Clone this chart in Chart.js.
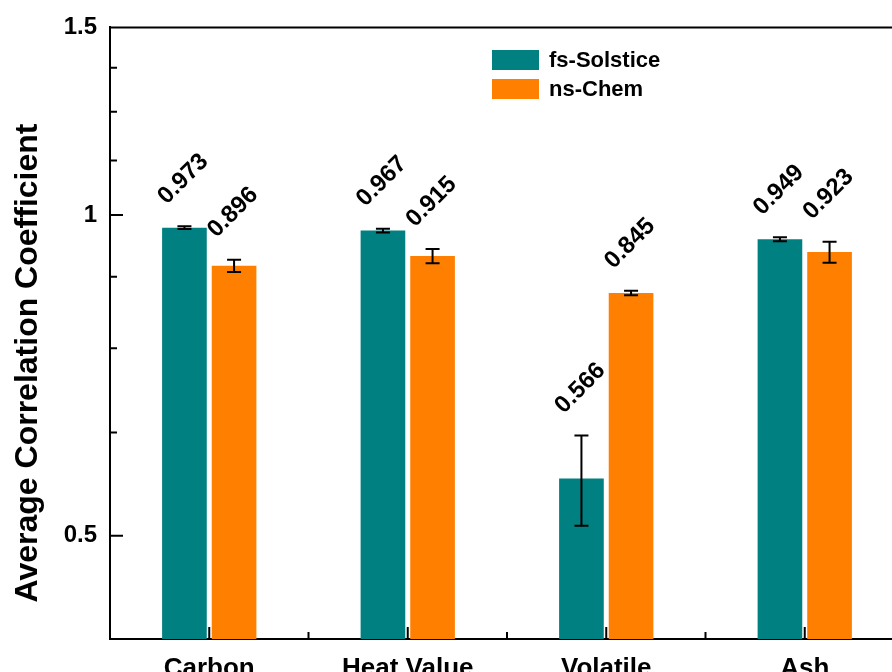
<!DOCTYPE html>
<html lang="en">
<head>
  <meta charset="UTF-8">
  <title>Average Correlation Coefficient</title>
  <script src="https://cdn.jsdelivr.net/npm/chart.js"></script>
  <style>
    html, body { margin: 0; padding: 0; background: #fff; overflow: hidden; }
    #wrap { width: 920px; height: 672px; }
  </style>
</head>
<body>
  <div id="wrap"><canvas id="corrChart" width="920" height="672"></canvas></div>

  <script>
    const categories = ['Carbon', 'Heat Value', 'Volatile', 'Ash'];
    const seriesNames = ['fs-Solstice', 'ns-Chem'];
    const fsValues = [0.973, 0.967, 0.566, 0.949];
    const fsErrors = [0.003, 0.004, 0.055, 0.004];
    const nsValues = [0.896, 0.915, 0.845, 0.923];
    const nsErrors = [0.012, 0.014, 0.004, 0.021];
    const yTicks = [0.5, 1, 1.5];
    const yMinorTicks = [0.625, 0.75, 0.875, 1.125, 1.25, 1.375];

    const FONT = "'Liberation Sans', Arial, sans-serif";

    // error bars, value labels, inward ticks, frame, legend, y title
    const decorations = {
      id: 'decorations',
      afterDatasetsDraw(chart) {
        const { ctx, chartArea: area, scales: { x, y } } = chart;
        ctx.save();

        chart.data.datasets.forEach((ds, di) => {
          chart.getDatasetMeta(di).data.forEach((bar, i) => {
            const v = ds.data[i], e = ds.errors[i];
            const top = y.getPixelForValue(v + e);
            const bot = y.getPixelForValue(v - e);
            ctx.strokeStyle = '#000';
            ctx.lineWidth = 2;
            ctx.beginPath();
            ctx.moveTo(bar.x, top); ctx.lineTo(bar.x, bot);
            ctx.moveTo(bar.x - 7, top); ctx.lineTo(bar.x + 7, top);
            ctx.moveTo(bar.x - 7, bot); ctx.lineTo(bar.x + 7, bot);
            ctx.stroke();

            ctx.save();
            ctx.translate(bar.x - bar.width / 2, top - 26);
            ctx.rotate(-Math.PI / 4);
            ctx.font = 'bold 24px ' + FONT;
            ctx.fillStyle = '#000';
            ctx.textAlign = 'left';
            ctx.textBaseline = 'middle';
            ctx.fillText(v.toFixed(3), 0, 0);
            ctx.restore();
          });
        });

        ctx.strokeStyle = '#000';
        ctx.lineWidth = 2;
        ctx.beginPath();
        // top frame line
        ctx.moveTo(area.left, area.top); ctx.lineTo(chart.width, area.top);
        // y ticks pointing inward
        yTicks.forEach(v => {
          const py = y.getPixelForValue(v);
          ctx.moveTo(area.left, py); ctx.lineTo(area.left + 13, py);
        });
        yMinorTicks.forEach(v => {
          const py = y.getPixelForValue(v);
          ctx.moveTo(area.left, py); ctx.lineTo(area.left + 7, py);
        });
        // x ticks pointing inward
        categories.forEach((c, i) => {
          const px = x.getPixelForValue(i);
          ctx.moveTo(px, area.bottom); ctx.lineTo(px, area.bottom - 12);
          if (i > 0) {
            const mx = x.getPixelForValue(i - 0.5);
            ctx.moveTo(mx, area.bottom); ctx.lineTo(mx, area.bottom - 7);
          }
        });
        ctx.stroke();

        // legend
        ctx.font = 'bold 22px ' + FONT;
        ctx.textAlign = 'left';
        ctx.textBaseline = 'middle';
        chart.data.datasets.forEach((ds, di) => {
          const cy = 60 + di * 29;
          ctx.fillStyle = ds.backgroundColor;
          ctx.fillRect(492, cy - 10, 47, 20);
          ctx.fillStyle = '#000';
          ctx.fillText(ds.label, 549, cy + 1);
        });

        // y axis title
        ctx.save();
        ctx.translate(37, 363);
        ctx.rotate(-Math.PI / 2);
        ctx.font = 'bold 32px ' + FONT;
        ctx.textAlign = 'center';
        ctx.textBaseline = 'alphabetic';
        ctx.fillText('Average Correlation Coefficient', 0, 0);
        ctx.restore();

        ctx.restore();
      }
    };

    const ctx = document.getElementById('corrChart').getContext('2d');
    new Chart(ctx, {
      type: 'bar',
      data: {
        labels: categories,
        datasets: [
          { label: seriesNames[0], data: fsValues, errors: fsErrors, backgroundColor: '#008080' },
          { label: seriesNames[1], data: nsValues, errors: nsErrors, backgroundColor: '#ff8000' }
        ]
      },
      options: {
        responsive: false,
        animation: false,
        layout: { padding: { top: 27, right: 16, bottom: 0, left: 0 } },
        categoryPercentage: 0.5,
        barPercentage: 0.9,
        plugins: {
          legend: { display: false },
          tooltip: { enabled: false }
        },
        scales: {
          x: {
            grid: { display: false, drawTicks: false },
            border: { color: '#000', width: 2 },
            ticks: {
              color: '#000',
              font: { family: FONT, size: 26, weight: 'bold' },
              padding: 14,
              maxRotation: 0
            },
            afterFit: s => { s.height = 33; }
          },
          y: {
            type: 'logarithmic',
            min: 0.4,
            max: 1.5,
            grid: { display: false, drawTicks: false },
            border: { color: '#000', width: 2 },
            afterBuildTicks: s => { s.ticks = yTicks.map(v => ({ value: v })); },
            ticks: {
              color: '#000',
              font: { family: FONT, size: 24, weight: 'bold' },
              padding: 13,
              callback: v => String(v)
            },
            afterFit: s => { s.width = 110; }
          }
        }
      },
      plugins: [decorations]
    });
  </script>
</body>
</html>
